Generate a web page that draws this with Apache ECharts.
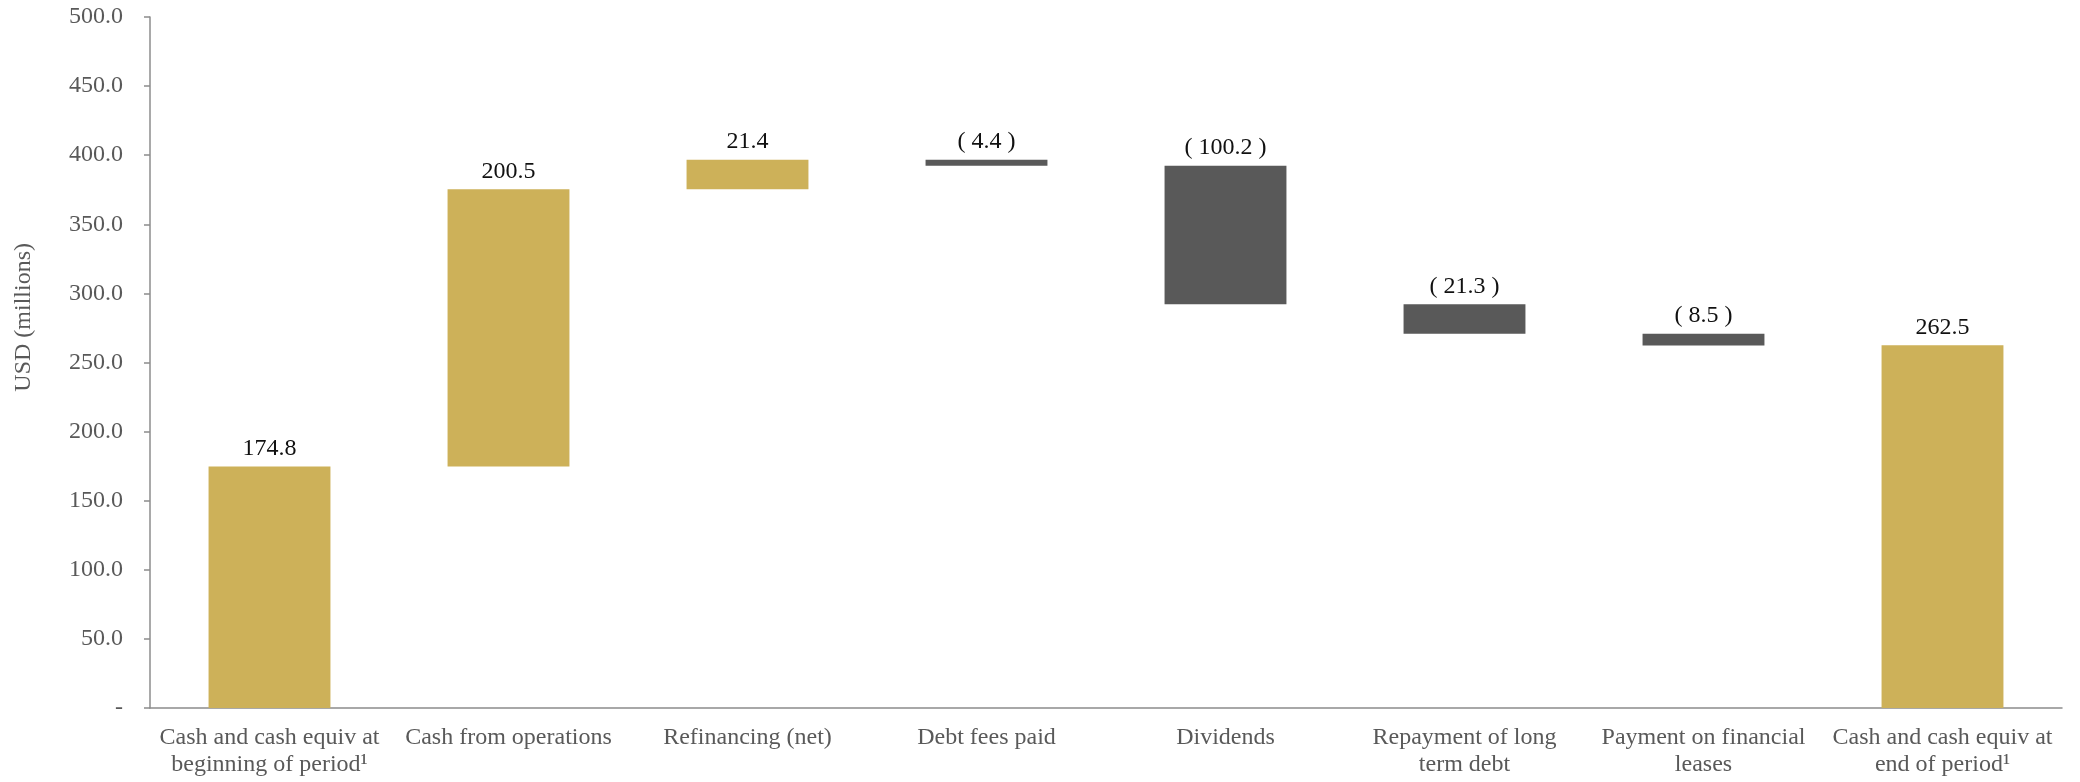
<!DOCTYPE html>
<html>
<head>
<meta charset="utf-8">
<script src="https://cdn.jsdelivr.net/npm/echarts@6/dist/echarts.min.js"></script>
<style>
  html, body { margin: 0; padding: 0; background: #ffffff; }
  #chart { width: 2080px; height: 782px; }
</style>
</head>
<body>
<div id="chart"></div>
<script>
// Cash bridge: opening balance, movements, closing balance (USD millions)
const categories = [
  'Cash and cash equiv at\nbeginning of period¹',
  'Cash from operations',
  'Refinancing (net)',
  'Debt fees paid',
  'Dividends',
  'Repayment of long\nterm debt',
  'Payment on financial\nleases',
  'Cash and cash equiv at\nend of period¹'
];
const amounts = [174.8, 200.5, 21.4, -4.4, -100.2, -21.3, -8.5, 262.5];
const isTotal = [true, false, false, false, false, false, false, true];
const yTicks = { min: 0, max: 500, interval: 50 };

const GOLD = '#CDB159';
const GREY = '#595959';

// Waterfall: an invisible base series lifts each movement bar to the running total
const bases = [];
const heights = [];
let running = 0;
amounts.forEach((v, i) => {
  if (isTotal[i]) {
    bases.push(0);
    heights.push(v);
    running = v;
  } else if (v >= 0) {
    bases.push(running);
    heights.push(v);
    running += v;
  } else {
    running += v;
    bases.push(running);
    heights.push(-v);
  }
});

const fmt = v => v < 0 ? '( ' + Math.abs(v).toFixed(1) + ' )' : v.toFixed(1);

const chart = echarts.init(document.getElementById('chart'), null, { renderer: 'canvas' });
chart.setOption({
  animation: false,
  backgroundColor: '#ffffff',
  grid: { left: 150, right: 18, top: 17, bottom: 74, containLabel: false },
  xAxis: {
    type: 'category',
    data: categories,
    axisLine: { lineStyle: { color: '#8c8c8c', width: 1.5 } },
    axisTick: { show: false },
    axisLabel: {
      interval: 0,
      margin: 16,
      color: '#595959',
      fontFamily: 'Liberation Serif',
      fontSize: 24,
      lineHeight: 27
    }
  },
  yAxis: {
    type: 'value',
    min: yTicks.min,
    max: yTicks.max,
    interval: yTicks.interval,
    splitLine: { show: false },
    axisLine: { show: true, lineStyle: { color: '#8c8c8c', width: 1.5 } },
    axisTick: { show: true, length: 6, lineStyle: { color: '#8c8c8c', width: 1.5 } },
    axisLabel: {
      margin: 27,
      color: '#595959',
      fontFamily: 'Liberation Serif',
      fontSize: 24,
      formatter: v => v === 0 ? '-' : v.toFixed(1)
    }
  },
  graphic: [{
    type: 'text',
    left: 12,
    top: 243,
    rotation: Math.PI / 2,
    style: {
      text: 'USD (millions)',
      fill: '#595959',
      font: '24px "Liberation Serif"'
    }
  }],
  series: [
    {
      name: 'base',
      type: 'bar',
      stack: 'bridge',
      data: bases,
      itemStyle: { color: 'transparent' },
      emphasis: { disabled: true },
      silent: true,
      barCategoryGap: '49%'
    },
    {
      name: 'amount',
      type: 'bar',
      stack: 'bridge',
      barCategoryGap: '49%',
      data: heights.map((h, i) => ({
        value: h,
        itemStyle: { color: amounts[i] < 0 ? GREY : GOLD },
        label: { formatter: fmt(amounts[i]) }
      })),
      label: {
        show: true,
        position: 'top',
        distance: 6,
        color: '#111111',
        fontFamily: 'Liberation Serif',
        fontSize: 24
      }
    }
  ]
});
</script>
</body>
</html>
